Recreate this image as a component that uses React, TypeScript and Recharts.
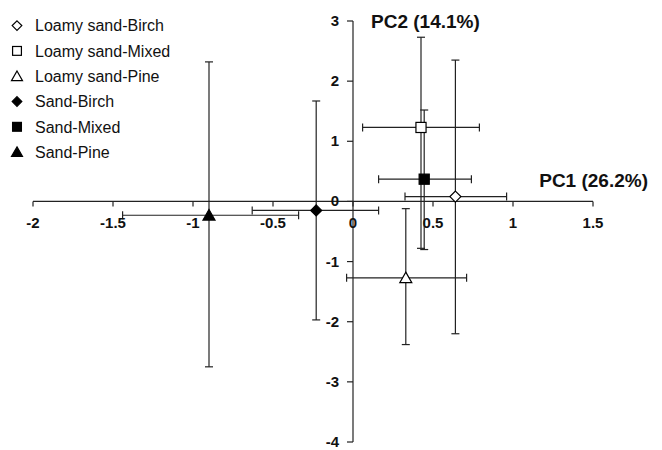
import {
  ScatterChart,
  Scatter,
  XAxis,
  YAxis,
  ErrorBar,
  ReferenceLine,
  ReferenceDot,
  Legend,
} from "recharts";

const seriesNames = [
  "Loamy sand-Birch",
  "Loamy sand-Mixed",
  "Loamy sand-Pine",
  "Sand-Birch",
  "Sand-Mixed",
  "Sand-Pine",
];
const pc1Mean = [0.64, 0.425, 0.33, -0.23, 0.445, -0.9];
const pc1Low = [0.325, 0.06, -0.04, -0.63, 0.16, -1.44];
const pc1High = [0.96, 0.79, 0.71, 0.16, 0.74, -0.34];
const pc2Mean = [0.08, 1.23, -1.27, -0.15, 0.37, -0.23];
const pc2Low = [-2.2, -0.78, -2.38, -1.97, -0.8, -2.75];
const pc2High = [2.35, 2.73, -0.12, 1.67, 1.52, 2.32];

const markerKinds = ["diamond", "square", "triangle", "diamond", "square", "triangle"];
const markerFilled = [false, false, false, true, true, true];

const xTicks = [-2, -1.5, -1, -0.5, 0, 0.5, 1, 1.5];
const yTicks = [-4, -3, -2, -1, 0, 1, 2, 3];

const FONT = "Liberation Sans, Arial, sans-serif";
const INK = "#222";

const series = seriesNames.map((name, i) => ({
  name,
  kind: markerKinds[i],
  filled: markerFilled[i],
  data: [
    {
      x: pc1Mean[i],
      y: pc2Mean[i],
      ex: [pc1Mean[i] - pc1Low[i], pc1High[i] - pc1Mean[i]],
      ey: [pc2Mean[i] - pc2Low[i], pc2High[i] - pc2Mean[i]],
    },
  ],
}));

// marker drawn around (cx, cy); s = half size
const Marker = ({ kind, filled, cx, cy, s }: any) => {
  const fill = filled ? "#000" : "#fff";
  if (kind === "diamond") {
    return (
      <polygon
        points={`${cx},${cy - s} ${cx + s},${cy} ${cx},${cy + s} ${cx - s},${cy}`}
        fill={fill}
        stroke="#000"
        strokeWidth={1.2}
      />
    );
  }
  if (kind === "square") {
    const h = s * 0.92;
    return (
      <rect x={cx - h} y={cy - h} width={h * 2} height={h * 2} fill={fill} stroke="#000" strokeWidth={1.2} />
    );
  }
  return (
    <polygon
      points={`${cx},${cy - s * 0.95} ${cx + s},${cy + s * 0.8} ${cx - s},${cy + s * 0.8}`}
      fill={fill}
      stroke="#000"
      strokeWidth={1.2}
    />
  );
};

const XTick = ({ cx, cy, value }: any) => (
  <g>
    <line x1={cx} y1={cy} x2={cx} y2={cy + 5} stroke={INK} strokeWidth={1.2} />
    <text x={cx} y={cy + 27} textAnchor="middle" fontFamily={FONT} fontWeight="bold" fontSize={15} fill="#111">
      {value}
    </text>
  </g>
);

const YTick = ({ cx, cy, value }: any) => (
  <g>
    <line x1={cx - 6} y1={cy} x2={cx} y2={cy} stroke={INK} strokeWidth={1.2} />
    <text x={cx - 14} y={cy + 5} textAnchor="end" fontFamily={FONT} fontWeight="bold" fontSize={15} fill="#111">
      {value}
    </text>
  </g>
);

const LegendBox = () => (
  <svg width={200} height={152} style={{ display: "block" }}>
    {series.map((s, i) => (
      <g key={s.name}>
        <Marker
          kind={s.kind}
          filled={s.filled}
          cx={9}
          cy={12.6 + i * 25.3}
          s={s.kind === "triangle" ? 5.5 : 4.8}
        />
        <text x={27} y={18.3 + i * 25.3} fontFamily={FONT} fontSize={16} fill="#111">
          {s.name}
        </text>
      </g>
    ))}
  </svg>
);

export default function App() {
  return (
    <div style={{ position: "absolute", left: 0, top: 0, width: 662, height: 450, background: "#fff" }}>
      <ScatterChart width={662} height={450} margin={{ top: 21, right: 69, bottom: 8, left: 33 }}>
        <XAxis type="number" dataKey="x" domain={[-2, 1.5]} hide allowDataOverflow />
        <YAxis type="number" dataKey="y" domain={[-4, 3]} hide allowDataOverflow />

        <ReferenceLine y={0} stroke={INK} strokeWidth={1.2} />
        <ReferenceLine x={0} stroke={INK} strokeWidth={1.2} />

        {xTicks.map((t) => (
          <ReferenceDot
            key={`x${t}`}
            x={t}
            y={0}
            ifOverflow="visible"
            shape={(p: any) => <XTick cx={p.cx} cy={p.cy} value={t} />}
          />
        ))}
        {yTicks.map((t) => (
          <ReferenceDot
            key={`y${t}`}
            x={0}
            y={t}
            ifOverflow="visible"
            shape={(p: any) => <YTick cx={p.cx} cy={p.cy} value={t} />}
          />
        ))}

        <ReferenceDot
          x={1.5}
          y={0}
          ifOverflow="visible"
          shape={(p: any) => (
            <text x={p.cx + 55} y={p.cy - 14} textAnchor="end" fontFamily={FONT} fontWeight="bold" fontSize={19} fill="#111">
              PC1 (26.2%)
            </text>
          )}
        />
        <ReferenceDot
          x={0}
          y={3}
          ifOverflow="visible"
          shape={(p: any) => (
            <text x={p.cx + 18} y={p.cy + 7} fontFamily={FONT} fontWeight="bold" fontSize={19} fill="#111">
              PC2 (14.1%)
            </text>
          )}
        />

        {series.map((s) => (
          <Scatter
            key={s.name}
            name={s.name}
            data={s.data}
            isAnimationActive={false}
            shape={(p: any) => (
              <Marker kind={s.kind} filled={s.filled} cx={p.cx} cy={p.cy} s={s.kind === "triangle" ? 6 : 5.5} />
            )}
          >
            <ErrorBar dataKey="ex" direction="x" width={4} stroke={INK} strokeWidth={1.2} />
            <ErrorBar dataKey="ey" direction="y" width={4} stroke={INK} strokeWidth={1.2} />
          </Scatter>
        ))}

        <Legend
          layout="vertical"
          align="center"
          verticalAlign="middle"
          wrapperStyle={{ left: 8, top: 13.4, width: 200 }}
          content={() => <LegendBox />}
        />
      </ScatterChart>
    </div>
  );
}
